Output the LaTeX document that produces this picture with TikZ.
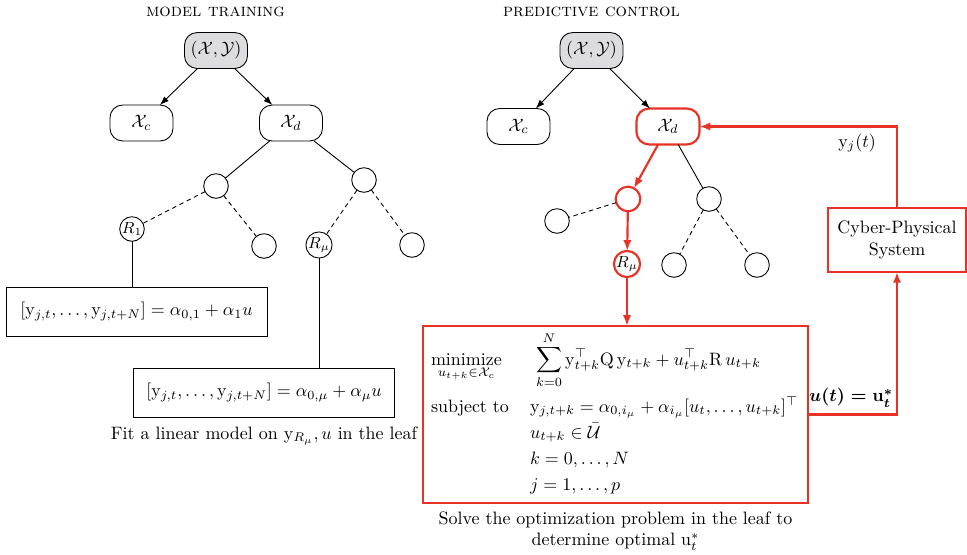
\documentclass[tikz,border=0pt]{standalone}
\usepackage{amsmath,amssymb}
\usetikzlibrary{arrows.meta}
\definecolor{cred}{RGB}{232,50,38}
\definecolor{rootgray}{RGB}{221,221,223}
\begin{document}
\begin{tikzpicture}[x=0.557pt,y=-0.557pt,
  every node/.style={inner sep=0pt, outer sep=0pt},
  setbox/.style={draw, line width=0.5pt, rounded corners=7pt, minimum width=35.1pt, minimum height=20pt},
  rootbox/.style={setbox, fill=rootgray},
  redset/.style={setbox, draw=cred, line width=1.2pt},
  leafnode/.style={draw, circle, line width=0.5pt, minimum size=13.7pt, font=\small},
  redleaf/.style={leafnode, draw=cred, line width=1.2pt},
  modelbox/.style={draw, line width=0.45pt, minimum width=145.4pt, minimum height=27.3pt},
  redbox/.style={draw=cred, line width=1.2pt},
  plainedge/.style={line width=0.5pt},
  dashededge/.style={line width=0.5pt, dash pattern=on 2.5pt off 2pt},
  arr/.style={line width=0.5pt, -{Latex[length=5pt,width=3.6pt]}},
  redarr/.style={draw=cred, line width=1.2pt, -{Latex[length=6pt,width=4.6pt]}},
  titletext/.style={font=\scshape},
  optline/.style={anchor=base west}
]
\useasboundingbox (0,0) rectangle (967,554);

% ---------------- left: model training
\node[titletext] (t1) at (215.5,12) {model training};
\node[rootbox] (r1) at (216,50.5) {$(\mathcal{X},\mathcal{Y})$};
\node[setbox] (c1) at (141.5,123) {$\mathcal{X}_c$};
\node[setbox] (d1) at (291,123) {$\mathcal{X}_d$};
\node[leafnode] (a1) at (216,186) {};
\node[leafnode] (b1) at (364,180) {};
\node[leafnode] (p1) at (132,229) {$R_1$};
\node[leafnode] (q1) at (264,246) {};
\node[leafnode] (m1) at (319,245) {$R_\mu$};
\node[leafnode] (s1) at (412,245) {};
\node[modelbox] (f1) at (136.5,311.5) {$[\mathrm{y}_{j,t},\dots,\mathrm{y}_{j,t+N}]=\alpha_{0,1}+\alpha_1u$};
\node[modelbox] (f2) at (264,392.5) {$[\mathrm{y}_{j,t},\dots,\mathrm{y}_{j,t+N}]=\alpha_{0,\mu}+\alpha_\mu u$};
\node (cap1) at (264,436) {Fit a linear model on $\mathrm{y}_{R_\mu},u$ in the leaf};

\draw[arr] (r1) -- (c1);
\draw[arr] (r1) -- (d1);
\draw[plainedge] (d1) -- (a1);
\draw[plainedge] (d1) -- (b1);
\draw[dashededge] (a1) -- (p1);
\draw[dashededge] (a1) -- (q1);
\draw[dashededge] (b1) -- (m1);
\draw[dashededge] (b1) -- (s1);
\draw[plainedge] (p1) -- (p1 |- f1.north);
\draw[plainedge] (m1) -- (m1 |- f2.north);

% ---------------- right: predictive control
\node[titletext] (t2) at (591.5,12) {predictive control};
\node[rootbox] (r2) at (591.5,50.5) {$(\mathcal{X},\mathcal{Y})$};
\node[setbox] (c2) at (518.5,126.5) {$\mathcal{X}_c$};
\node[redset] (d2) at (668,126.5) {$\mathcal{X}_d$};
\node[redleaf] (a2) at (628,199) {};
\node[leafnode] (b2) at (709,199) {};
\node[leafnode] (q2) at (557,221) {};
\node[redleaf] (m2) at (627,264) {$R_\mu$};
\node[leafnode] (u2) at (674,265) {};
\node[leafnode] (v2) at (757,265) {};
\node[redbox, minimum width=214.4pt, minimum height=98.6pt] (opt) at (615.5,414.5) {};
\node[redbox, minimum width=76.9pt, minimum height=35.6pt, align=center] (cps) at (897,240) {Cyber-Physical\\System};

\node[optline] (minl) at (431,365) {$\underset{u_{t+k}\in\mathcal{X}_c}{\text{minimize}}$};
\node[optline] (obj) at (536,365) {$\displaystyle\sum_{k=0}^{N}\mathrm{y}^\top_{t+k}\mathrm{Q}\,\mathrm{y}_{t+k}+u^\top_{t+k}\mathrm{R}\,u_{t+k}$};
\node[optline] (stl) at (431,412) {subject to};
\node[optline] (con1) at (530,412) {$\mathrm{y}_{j,t+k}=\alpha_{0,i_\mu}+\alpha_{i_\mu}[u_t,\dots,u_{t+k}]^\top$};
\node[optline] (con2) at (530,438) {$u_{t+k}\in\bar{\mathcal{U}}$};
\node[optline] (con3) at (530,464) {$k=0,\dots,N$};
\node[optline] (con4) at (530,490) {$j=1,\dots,p$};

\node (ylab) at (857,143) {$\mathrm{y}_j(t)$};
\node[font=\boldmath] (ulab) at (851,398) {$u(t)=\mathrm{u}^*_t$};
\node[align=center] (cap2) at (615.5,531) {Solve the optimization problem in the leaf to\\determine optimal $\mathrm{u}^*_t$};

\draw[arr] (r2) -- (c2);
\draw[arr] (r2) -- (d2);
\draw[redarr] (d2) -- (a2);
\draw[plainedge] (d2) -- (b2);
\draw[dashededge] (a2) -- (q2);
\draw[redarr] (a2) -- (m2);
\draw[dashededge] (b2) -- (u2);
\draw[dashededge] (b2) -- (v2);
\draw[redarr] (m2) -- (m2 |- opt.north);
\draw[redarr] (cps.north) |- (d2.east);
\draw[redarr] (opt.east) -| (cps.south);
\end{tikzpicture}
\end{document}
